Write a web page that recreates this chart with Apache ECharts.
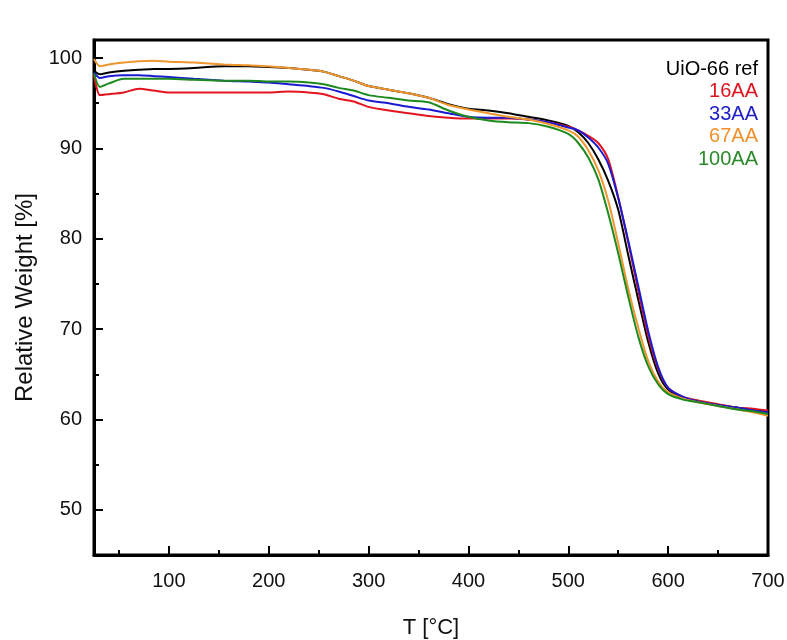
<!DOCTYPE html>
<html>
<head>
<meta charset="utf-8">
<script src="https://cdn.jsdelivr.net/npm/echarts@6/dist/echarts.min.js"></script>
<style>
html,body{margin:0;padding:0;background:#fff;}
#chart{width:787px;height:640px;}
</style>
</head>
<body>
<div id="chart"></div>
<script>
// Temperature sampling points (°C)
var temperature = [25, 31, 40, 55, 70, 85, 100, 125, 155, 180, 200, 220, 240, 255, 270, 285, 300, 320, 340, 360, 380, 400, 420, 440, 460, 480, 500, 510, 520, 530, 540, 550, 560, 570, 580, 590, 600, 615, 630, 650, 670, 685, 700];

var uio66ref = [98.6, 98.2, 98.4, 98.6, 98.7, 98.8, 98.8, 98.9, 99.1, 99.1, 99.0, 98.9, 98.7, 98.5, 98.0, 97.5, 96.9, 96.5, 96.1, 95.6, 94.9, 94.4, 94.2, 93.9, 93.5, 93.1, 92.5, 91.8, 90.6, 88.8, 86.4, 83.2, 78.2, 73.3, 68.6, 65.1, 63.3, 62.4, 62.0, 61.6, 61.3, 61.1, 60.9];
var aa16 = [98.1, 95.9, 96.0, 96.2, 96.6, 96.4, 96.2, 96.2, 96.2, 96.2, 96.2, 96.3, 96.2, 96.0, 95.5, 95.2, 94.6, 94.2, 93.9, 93.6, 93.4, 93.3, 93.3, 93.3, 93.2, 92.9, 92.4, 92.0, 91.4, 90.6, 88.8, 84.6, 79.6, 74.3, 69.3, 65.6, 63.5, 62.5, 62.1, 61.7, 61.3, 61.2, 61.0];
var aa33 = [98.4, 97.8, 98.0, 98.1, 98.1, 98.0, 97.9, 97.7, 97.5, 97.4, 97.3, 97.1, 96.9, 96.7, 96.3, 95.8, 95.3, 95.0, 94.6, 94.3, 93.9, 93.5, 93.4, 93.4, 93.2, 92.9, 92.3, 92.0, 91.2, 90.1, 88.3, 84.5, 79.8, 74.8, 69.8, 65.8, 63.5, 62.5, 62.0, 61.6, 61.3, 61.0, 60.8];
var aa67 = [99.9, 99.1, 99.3, 99.5, 99.65, 99.7, 99.6, 99.5, 99.3, 99.2, 99.1, 98.9, 98.7, 98.5, 98.0, 97.5, 96.9, 96.5, 96.1, 95.6, 94.8, 94.3, 93.9, 93.5, 93.2, 92.7, 92.0, 91.3, 89.8, 87.6, 84.2, 79.5, 74.5, 70.2, 66.5, 64.2, 63.0, 62.3, 61.9, 61.5, 61.1, 60.8, 60.4];
var aa100 = [98.3, 96.8, 97.2, 97.7, 97.7, 97.7, 97.7, 97.6, 97.5, 97.5, 97.4, 97.4, 97.3, 97.1, 96.7, 96.4, 95.9, 95.6, 95.3, 95.1, 94.2, 93.5, 93.1, 92.9, 92.8, 92.4, 91.6, 90.6, 89.0, 86.6, 82.8, 78.4, 73.6, 69.2, 65.9, 63.9, 62.8, 62.2, 61.9, 61.5, 61.1, 60.9, 60.6];

var seriesNames = ['UiO-66 ref', '16AA', '33AA', '67AA', '100AA'];
var seriesValues = [uio66ref, aa16, aa33, aa67, aa100];
var seriesColors = ['#000000', '#e3141e', '#1a1ad2', '#f0962e', '#1e8a1e'];
var legendColors = ['#000000', '#e0141e', '#2020c8', '#f0902e', '#2a8a2a'];

// Tick labels / positions
var xMajorTicks = [100, 200, 300, 400, 500, 600, 700];
var xMinorTicks = [50, 150, 250, 350, 450, 550, 650];
var yMajorTicks = [50, 60, 70, 80, 90, 100];
var yMinorTicks = [55, 65, 75, 85, 95];

var chart = echarts.init(document.getElementById('chart'), null, {renderer: 'canvas'});
var FONT = '"Liberation Sans", Arial, sans-serif';

function pairs(vals) {
  var out = [];
  for (var i = 0; i < temperature.length; i++) out.push([temperature[i], vals[i]]);
  return out;
}

var gridPos = {left: 94, right: 19, top: 40, bottom: 85, containLabel: false, outerBoundsMode: 'none'};

var legends = seriesNames.map(function (n, i) {
  return {
    data: [{name: n, textStyle: {color: legendColors[i]}}],
    right: 29,
    top: 59 + i * 22.5,
    orient: 'vertical',
    icon: 'none',
    itemWidth: 0,
    itemHeight: 20,
    itemGap: 0,
    padding: 0,
    selectedMode: false,
    textStyle: {fontSize: 20, fontFamily: FONT, padding: 0}
  };
});

var option = {
  backgroundColor: '#ffffff',
  animation: false,
  legend: legends,
  grid: [
    Object.assign({show: true, borderColor: '#000', borderWidth: 3, backgroundColor: 'transparent'}, gridPos),
    Object.assign({show: false}, gridPos)
  ],
  xAxis: [
    {
      type: 'value', gridIndex: 0, min: 25, max: 700,
      name: 'T [°C]', nameLocation: 'middle', nameGap: 62,
      nameTextStyle: {fontSize: 22, fontFamily: FONT, color: '#111'},
      axisLine: {show: true, lineStyle: {color: '#000', width: 3}},
      axisTick: {show: true, inside: true, length: 9, lineStyle: {color: '#000', width: 2}, customValues: xMajorTicks},
      axisLabel: {show: true, fontSize: 20, fontFamily: FONT, color: '#111', margin: 16, customValues: xMajorTicks},
      splitLine: {show: false}
    },
    {
      type: 'value', gridIndex: 1, min: 25, max: 700,
      axisLine: {show: false},
      axisTick: {show: true, inside: true, length: 5, lineStyle: {color: '#000', width: 2}, customValues: xMinorTicks},
      axisLabel: {show: false},
      splitLine: {show: false}
    }
  ],
  yAxis: [
    {
      type: 'value', gridIndex: 0, min: 45, max: 102,
      name: 'Relative Weight [%]', nameLocation: 'middle', nameGap: 57,
      nameTextStyle: {fontSize: 24, fontFamily: FONT, color: '#111'},
      axisLine: {show: true, lineStyle: {color: '#000', width: 3}},
      axisTick: {show: true, inside: true, length: 9, lineStyle: {color: '#000', width: 2}, customValues: yMajorTicks},
      axisLabel: {show: true, fontSize: 20, fontFamily: FONT, color: '#111', margin: 12, customValues: yMajorTicks},
      splitLine: {show: false}
    },
    {
      type: 'value', gridIndex: 1, min: 45, max: 102,
      axisLine: {show: false},
      axisTick: {show: true, inside: true, length: 5, lineStyle: {color: '#000', width: 2}, customValues: yMinorTicks},
      axisLabel: {show: false},
      splitLine: {show: false}
    }
  ],
  series: seriesNames.map(function (n, i) {
    return {
      name: n, type: 'line', xAxisIndex: 0, yAxisIndex: 0,
      data: pairs(seriesValues[i]),
      showSymbol: false, symbol: 'none', smooth: 0.25,
      lineStyle: {color: seriesColors[i], width: 2},
      itemStyle: {color: seriesColors[i]},
      z: 2 + i
    };
  })
};
chart.setOption(option);
</script>
</body>
</html>
